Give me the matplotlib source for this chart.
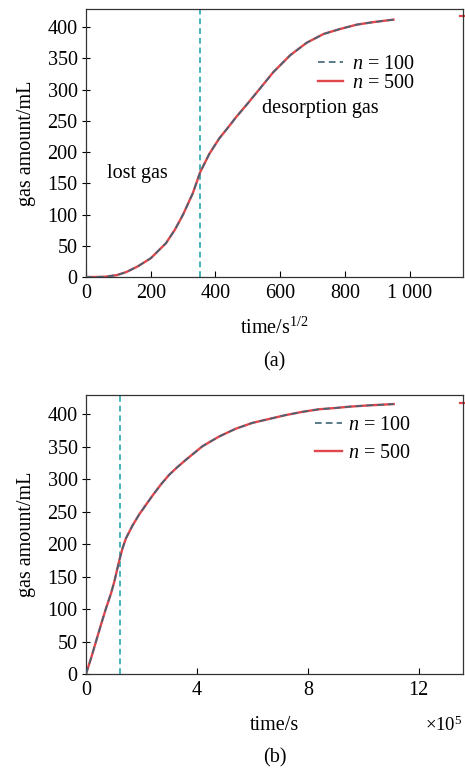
import numpy as np
import matplotlib
matplotlib.use('Agg')
import matplotlib.pyplot as plt

plt.rcParams['font.family'] = ['Liberation Serif', 'DejaVu Serif']
plt.rcParams['mathtext.fontset'] = 'custom'
plt.rcParams['mathtext.it'] = 'Liberation Serif:italic'
plt.rcParams['mathtext.rm'] = 'Liberation Serif'

# panel (a): gas amount vs square root of time
sqrt_t = [0, 30, 60, 95, 125, 160, 200, 247, 275, 300, 330, 353, 381, 412, 440, 464, 500,
          538, 579, 631, 682, 734, 785, 837, 888, 950]
gas_a = [0, 0, 0.5, 3, 8, 17, 30, 54, 76, 100, 134, 168, 197, 222, 240, 256, 278,
         302, 328, 355, 375, 389, 397, 404, 408, 412]
split_a = 352

# panel (b): gas amount vs time (x1e5 s)
t = [0, 0.18, 0.36, 0.54, 0.72, 0.9, 1.02, 1.2, 1.32, 1.44, 1.68, 1.92, 2.2, 2.4, 2.7,
     3.0, 3.3, 3.6, 4.2, 4.8, 5.4, 6.0, 6.6, 7.2, 7.8, 8.4, 9.0, 9.5, 10.2, 11.1]
gas_b = [0, 24, 50, 76, 101, 124, 142, 175, 194, 209, 229, 246, 263, 275, 292,
         307, 319, 330, 351, 366, 378, 387, 393, 399, 404, 408, 410, 412, 414, 416]
split_b = 1.21

c_dash = '#3f6577'
c_vline = '#45b3bd'
c_red = '#e0474c'
fs = 14.5

fig = plt.figure(figsize=(4.65, 7.71), dpi=100)


def draw(ax, x, y, split):
    ax.plot(x, y, color=c_red, lw=1.7, label='$n$ = 500', zorder=2)
    ax.plot(x, y, color=c_dash, lw=1.2, ls=(0, (4, 2.5)), label='$n$ = 100', zorder=3)
    ax.axvline(split, color=c_vline, lw=1.4, ls=(0, (3, 2)), zorder=1)
    ax.set_yticks(range(0, 401, 50))
    ax.set_ylabel('gas amount/mL', fontsize=fs, labelpad=8)
    ax.tick_params(axis='x', direction='in', labelsize=fs, length=4, pad=5, width=0.8)
    ax.tick_params(axis='y', direction='inout', labelsize=fs, length=6, pad=3, width=0.8)
    for s in ax.spines.values():
        s.set_linewidth(0.9)
        s.set_color('#333333')


ax1 = fig.add_axes([86/465, 1-277/771, 377/465, 268/771])
draw(ax1, sqrt_t, gas_a, split_a)
ax1.plot([1155, 1170], [418, 418], color=c_red, lw=1.6, clip_on=False)
ax1.set_xlim(0, 1165)
ax1.set_ylim(0, 429)
ax1.set_xticks([0, 200, 400, 600, 800, 1000])
ax1.set_xticklabels(['0', '200', '400', '600', '800', '1 000'])
ax1.set_xlabel('time/s$^{1/2}$', fontsize=fs)
ax1.xaxis.set_label_coords(0.5, -51/268)
ax1.xaxis.label.set_va('center')
ax1.text(158, 166, 'lost gas', fontsize=fs, ha='center', va='center')
ax1.text(723, 270, 'desorption gas', fontsize=fs, ha='center', va='center')
h, l = ax1.get_legend_handles_labels()
ax1.legend([h[1], h[0]], [l[1], l[0]], loc='upper left', bbox_to_anchor=(0.615, 0.83),
           frameon=False, fontsize=fs, handlelength=1.25, handletextpad=0.45,
           labelspacing=0.0, borderpad=0, borderaxespad=0)
ax1.text(0.5, -85/268, '(a)', transform=ax1.transAxes, fontsize=fs, ha='center', va='center')

ax2 = fig.add_axes([86/465, 1-674/771, 377/465, 279/771])
draw(ax2, t, gas_b, split_b)
ax2.plot([13.5, 13.7], [418, 418], color=c_red, lw=1.6, clip_on=False)
ax2.set_xlim(0, 13.6)
ax2.set_ylim(0, 430)
ax2.set_xticks([0, 4, 8, 12])
ax2.set_xlabel('time/s', fontsize=fs)
ax2.xaxis.set_label_coords(0.5, -51/279)
ax2.xaxis.label.set_va('center')
h, l = ax2.get_legend_handles_labels()
ax2.legend([h[1], h[0]], [l[1], l[0]], loc='upper left', bbox_to_anchor=(0.607, 0.925),
           frameon=False, fontsize=fs, handlelength=1.35, handletextpad=0.3,
           labelspacing=0.45, borderpad=0, borderaxespad=0)
ax2.text((444-86)/377, -51/279, r'$\times$10$^5$', transform=ax2.transAxes,
         fontsize=fs - 1, ha='center', va='center')
ax2.text(0.5, -84/279, '(b)', transform=ax2.transAxes, fontsize=fs, ha='center', va='center')

fig.savefig('out.png', dpi=100)
